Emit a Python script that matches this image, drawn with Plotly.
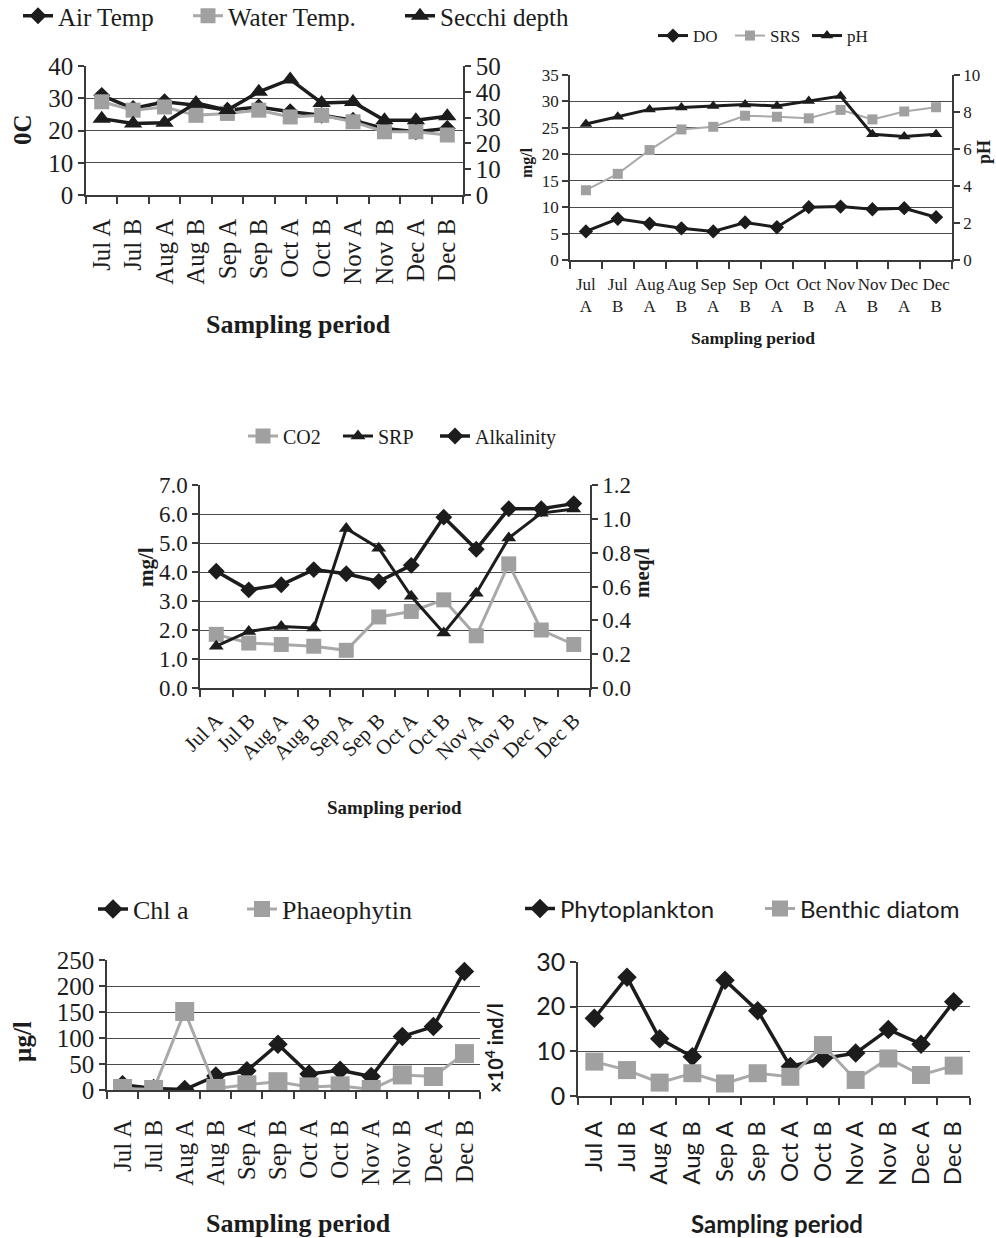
import plotly.graph_objects as go

# ---------------- data ----------------
periods = ["Jul A", "Jul B", "Aug A", "Aug B", "Sep A", "Sep B",
           "Oct A", "Oct B", "Nov A", "Nov B", "Dec A", "Dec B"]
periods_two_line = [p.replace(" ", "<br>") for p in periods]

air_temp = [30.9, 26.8, 28.9, 27.8, 26.3, 27.3, 25.8, 24.7, 23.2, 20.6, 19.6, 20.6]
water_temp = [28.9, 26.3, 27.3, 24.7, 25.3, 26.3, 24.2, 24.7, 22.7, 19.6, 19.6, 18.6]
secchi_depth = [29.6, 27.7, 28.0, 35.7, 32.9, 40.0, 44.8, 35.7, 36.0, 29.0, 29.0, 30.5]

do_vals = [5.4, 7.8, 6.9, 6.0, 5.4, 7.1, 6.2, 10.0, 10.1, 9.6, 9.8, 8.1]
srs = [13.2, 16.3, 20.8, 24.7, 25.2, 27.3, 27.1, 26.8, 28.4, 26.6, 28.1, 28.9]
ph = [7.35, 7.75, 8.14, 8.25, 8.32, 8.41, 8.32, 8.6, 8.86, 6.8, 6.67, 6.8]

co2 = [1.85, 1.55, 1.5, 1.44, 1.3, 2.45, 2.64, 3.04, 1.8, 4.28, 2.0, 1.5]
srp = [1.44, 1.95, 2.12, 2.07, 5.5, 4.82, 3.16, 1.9, 3.27, 5.17, 6.03, 6.17]
alkalinity = [0.69, 0.58, 0.61, 0.70, 0.675, 0.63, 0.725, 1.01, 0.82, 1.06, 1.06, 1.09]

chl_a = [10, 3, 1, 27, 37, 88, 31, 38, 26, 103, 122, 228]
phaeophytin = [3, 1, 151, 3, 10, 16, 6, 8, 1, 29, 26, 70]

phytoplankton = [17.4, 26.6, 12.8, 8.8, 25.9, 19.1, 6.6, 8.4, 9.6, 14.9, 11.6, 21.1]
benthic_diatom = [7.7, 5.8, 3.0, 5.1, 2.8, 5.1, 4.3, 11.4, 3.6, 8.4, 4.7, 6.8]

# ---------------- style ----------------
W, H = 996, 1238
SERIF = "Liberation Serif"
SANS = "Lato"
BLACK = "#1c1c1c"
GRAY = "#a9a9a9"
GRAYM = "#a0a0a0"
LINE = "#3a3a3a"
GRID = "#4a4a4a"


def X(px):
    return px / W


def Y(py):
    return 1 - py / H


legends = {}


def add_legend(key, text_x, ypx, size, family):
    # legend box left edge sits 40 px before the legend text
    legends[key] = dict(x=X(text_x - 40), y=Y(ypx), xanchor="left",
                        yanchor="middle", orientation="h",
                        bgcolor="rgba(0,0,0,0)", borderwidth=0, itemwidth=30,
                        font=dict(size=size, family=family, color=BLACK))


def series(kind, name, x, y, xa, ya, leg, size, lw):
    if kind == "square":
        line = dict(color=GRAY, width=lw)
        marker = dict(symbol="square", size=size, color=GRAYM)
    else:
        line = dict(color=BLACK, width=lw)
        marker = dict(symbol="diamond" if kind == "diamond" else "triangle-up",
                      size=size, color=BLACK)
    return go.Scatter(x=x, y=y, name=name, xaxis=xa, yaxis=ya, legend=leg,
                      mode="lines+markers", line=line, marker=marker)


fig = go.Figure()

# top-left
fig.add_trace(series("diamond", "Air Temp", periods, air_temp, "x", "y", "legend", 13, 3.5))
fig.add_trace(series("square", "Water Temp.", periods, water_temp, "x", "y", "legend2", 15, 3))
fig.add_trace(series("triangle", "Secchi depth", periods, secchi_depth, "x", "y2", "legend3", 16, 3.5))
add_legend("legend", 58, 16, 25, SERIF)
add_legend("legend2", 228, 16, 25, SERIF)
add_legend("legend3", 440, 16, 25, SERIF)
# top-right
fig.add_trace(series("diamond", "DO", periods_two_line, do_vals, "x2", "y3", "legend4", 11, 3))
fig.add_trace(series("square", "SRS", periods_two_line, srs, "x2", "y3", "legend5", 10, 2))
fig.add_trace(series("triangle", "pH", periods_two_line, ph, "x2", "y4", "legend6", 11, 3))
add_legend("legend4", 693, 36, 17, SERIF)
add_legend("legend5", 770, 36, 17, SERIF)
add_legend("legend6", 847, 36, 17, SERIF)
# middle
fig.add_trace(series("square", "CO2", periods, co2, "x3", "y5", "legend7", 15, 3))
fig.add_trace(series("triangle", "SRP", periods, srp, "x3", "y5", "legend8", 13, 3))
fig.add_trace(series("diamond", "Alkalinity", periods, alkalinity, "x3", "y6", "legend9", 13, 3.5))
add_legend("legend7", 283, 436, 20, SERIF)
add_legend("legend8", 378, 436, 20, SERIF)
add_legend("legend9", 475, 436, 20, SERIF)
# bottom-left
fig.add_trace(series("diamond", "Chl a", periods, chl_a, "x4", "y7", "legend10", 15, 3.5))
fig.add_trace(series("square", "Phaeophytin", periods, phaeophytin, "x4", "y7", "legend11", 19, 3))
add_legend("legend10", 133, 909, 26, SERIF)
add_legend("legend11", 282, 909, 26, SERIF)
# bottom-right
fig.add_trace(series("diamond", "Phytoplankton", periods, phytoplankton, "x5", "y8", "legend12", 15, 3.5))
fig.add_trace(series("square", "Benthic diatom", periods, benthic_diatom, "x5", "y8", "legend13", 18, 3))
add_legend("legend12", 560, 909, 24, SANS)
add_legend("legend13", 800, 909, 24, SANS)


def xax(x0, x1, yanchor, angle, size, family, standoff=2):
    return dict(domain=[X(x0), X(x1)], anchor=yanchor, type="category",
                range=[-0.5, 11.5], tickson="boundaries", ticks="outside",
                ticklen=7, tickwidth=1.5, tickcolor=LINE, showline=True,
                linecolor=LINE, linewidth=1.5, showgrid=False, zeroline=False,
                tickangle=angle, ticklabelstandoff=standoff, automargin=False,
                tickfont=dict(size=size, family=family, color=BLACK),
                fixedrange=True)


def yax(y0, y1, xanchor, rng, dtick, size, family, side="left",
        overlaying=None, grid=True):
    d = dict(anchor=xanchor, range=rng, dtick=dtick, tick0=0, side=side,
             ticks="outside", ticklen=6, tickwidth=1.5, tickcolor=LINE,
             showline=True, linecolor=LINE, linewidth=1.5, automargin=False,
             showgrid=grid, gridcolor=GRID, gridwidth=1.3, zeroline=False,
             tickfont=dict(size=size, family=family, color=BLACK),
             fixedrange=True)
    if overlaying:
        d["overlaying"] = overlaying
    else:
        d["domain"] = [Y(y1), Y(y0)]
    return d


fig.update_layout(
    width=W, height=H, autosize=False,
    margin=dict(l=0, r=0, t=0, b=0, autoexpand=False),
    paper_bgcolor="white", plot_bgcolor="white",
    showlegend=True,
    # top-left
    xaxis=xax(86, 463, "y", -90, 25, SERIF, standoff=12),
    yaxis=yax(66, 195, "x", [0, 40], 10, 25, SERIF),
    yaxis2=yax(66, 195, "x", [0, 50], 10, 25, SERIF, side="right",
               overlaying="y", grid=False),
    # top-right
    xaxis2=xax(570, 952, "y3", 0, 17, SERIF, standoff=8),
    yaxis3=yax(75, 260, "x2", [0, 35], 5, 17, SERIF),
    yaxis4=yax(75, 260, "x2", [0, 10], 2, 17, SERIF, side="right",
               overlaying="y3", grid=False),
    # middle
    xaxis3=xax(200, 590, "y5", -45, 21, SERIF, standoff=10),
    yaxis5=dict(yax(485, 688, "x3", [0, 7], 1, 23, SERIF), tickformat=".1f"),
    yaxis6=dict(yax(485, 688, "x3", [0, 1.2], 0.2, 23, SERIF, side="right",
                    overlaying="y5", grid=False), tickformat=".1f"),
    # bottom-left
    xaxis4=xax(107, 480, "y7", -90, 25, SERIF, standoff=18),
    yaxis7=yax(960, 1090, "x4", [0, 250], 50, 25, SERIF),
    # bottom-right
    xaxis5=xax(578, 970, "y8", -90, 24, SANS, standoff=14),
    yaxis8=yax(962, 1096, "x5", [0, 30], 10, 25, SANS),
    **legends,
)


def title(text, xpx, ypx, size, family, angle=0):
    fig.add_annotation(text=text, x=X(xpx), y=Y(ypx), xref="paper", yref="paper",
                       showarrow=False, textangle=angle, xanchor="center",
                       yanchor="middle",
                       font=dict(size=size, family=family, color=BLACK))


title("<b>Sampling period</b>", 298, 325, 26, SERIF)
title("<b>Sampling period</b>", 753, 338, 17.5, SERIF)
title("<b>Sampling period</b>", 394, 807, 19, SERIF)
title("<b>Sampling period</b>", 298, 1223, 26, SERIF)
title("<b>Sampling period</b>", 777, 1223, 24, SANS)

title("<b>0C</b>", 22, 130, 25, SERIF, -90)
title("<b>mg/l</b>", 527, 163, 16, SERIF, -90)
title("<b>pH</b>", 984, 152, 18, SERIF, -90)
title("<b>mg/l</b>", 146, 567, 21, SERIF, -90)
title("<b>meq/l</b>", 642, 573, 21, SERIF, -90)
title("<b>µg/l</b>", 22, 1042, 25, SERIF, -90)
title("<b>×10<sup>4</sup> ind/l</b>", 494, 1048, 20, SANS, -90)

fig.write_html("out.html", config={"displayModeBar": False},
               post_script="document.body.style.margin='0px';")
